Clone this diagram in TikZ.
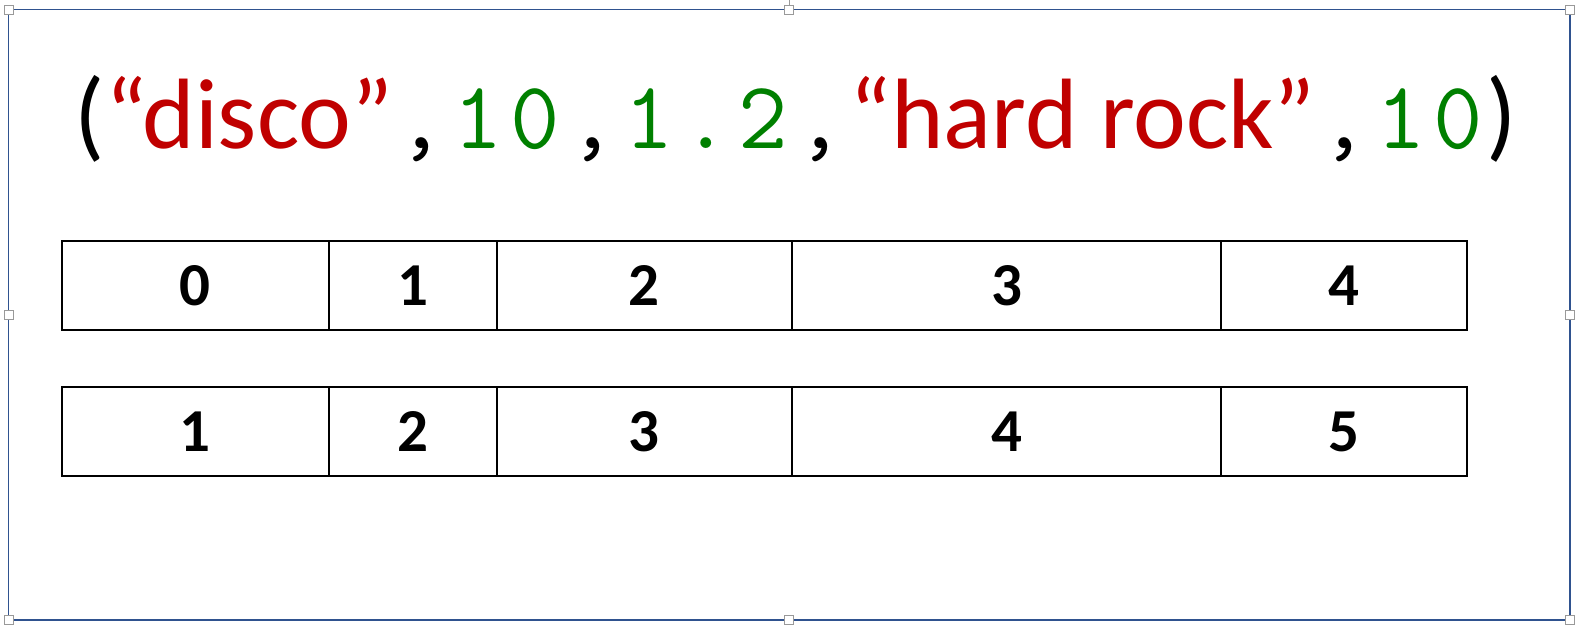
\documentclass[tikz,border=0pt]{standalone}
\usepackage{fontspec}
\setmainfont{Carlito}
\definecolor{strred}{RGB}{192,0,0}
\definecolor{numgreen}{RGB}{0,128,0}
\definecolor{selblue}{RGB}{47,82,143}
% one monospaced cell, Courier pitch
\newcommand{\mc}[1]{\makebox[57pt]{#1}}
\newcommand{\codepart}[1]{{\ttfamily\fontsize{96}{96}\selectfont#1}}
\tikzset{
  cell/.style={draw=black, line width=2.2pt, inner sep=0pt, minimum height=89pt,
    anchor=north west, font=\fontsize{61}{61}\selectfont\bfseries},
  handle/.style={draw=gray!80, fill=white, line width=0.8pt, minimum size=9pt, inner sep=0pt},
}

\begin{document}
\begin{tikzpicture}[x=1pt, y=-1pt]
\useasboundingbox (0,0) rectangle (1582,637);
\fill[white] (0,0) rectangle (1582,637);

% selection frame
\coordinate (TL) at (8.5,9.5);
\coordinate (BR) at (1570,620);
\coordinate (stub) at (789,0);
\draw[selblue, line width=1.5pt] (TL) rectangle (BR);
\node[handle] (h1) at (8.5,9.5) {};
\node[handle] (h2) at (789,9.5) {};
\node[handle] (h3) at (1570,9.5) {};
\node[handle] (h4) at (8.5,314.5) {};
\node[handle] (h5) at (1570,314.5) {};
\node[handle] (h6) at (8.5,620) {};
\node[handle] (h7) at (789,620) {};
\node[handle] (h8) at (1570,620) {};
\draw[gray!80, line width=0.8pt] (h2.north) -- (stub);

% the tuple
\node[anchor=base, font=\fontsize{100}{100}\selectfont] (tuple) at (796,148)
  {(\textcolor{strred}{“disco”}\codepart{\mc{,}\textcolor{numgreen}{\mc{1}\mc{0}}\mc{,}\textcolor{numgreen}{\mc{1}\mc{.}\mc{2}}\mc{,}}\textcolor{strred}{“hard rock”}\codepart{\mc{,}\textcolor{numgreen}{\mc{1}\mc{0}}})};

% index row
\node[cell, minimum width=267pt] (i0) at (60.5,240) {0};
\node[cell, minimum width=168pt] (i1) at (327.5,240) {1};
\node[cell, minimum width=295.5pt] (i2) at (495.5,240) {2};
\node[cell, minimum width=429pt] (i3) at (791,240) {3};
\node[cell, minimum width=245.5pt] (i4) at (1220,240) {4};

% second row
\node[cell, minimum width=267pt] (j0) at (60.5,386) {1};
\node[cell, minimum width=168pt] (j1) at (327.5,386) {2};
\node[cell, minimum width=295.5pt] (j2) at (495.5,386) {3};
\node[cell, minimum width=429pt] (j3) at (791,386) {4};
\node[cell, minimum width=245.5pt] (j4) at (1220,386) {5};
\end{tikzpicture}
\end{document}
